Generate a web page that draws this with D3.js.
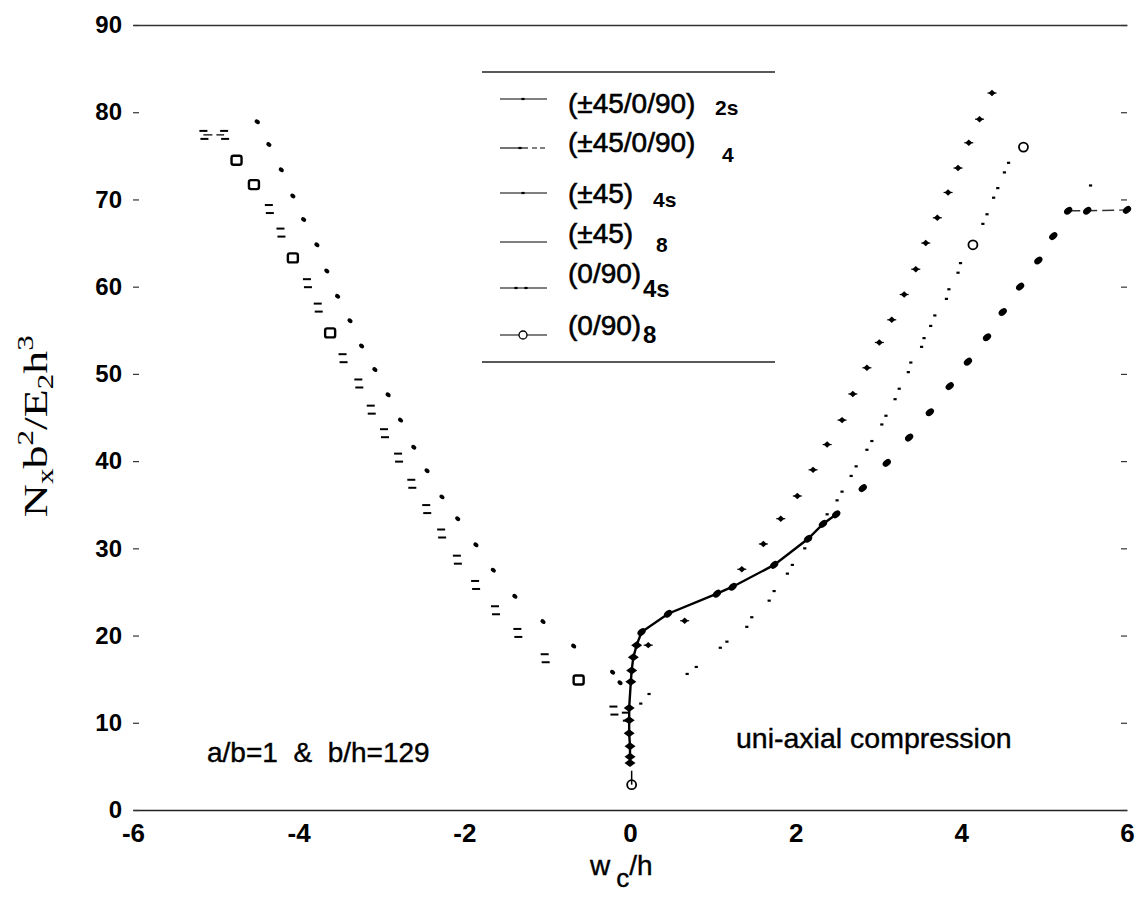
<!DOCTYPE html>
<html><head><meta charset="utf-8">
<script src="https://cdn.jsdelivr.net/npm/d3@7"></script>
<style>
body{margin:0;background:#fff}
text{fill:#000}
</style>
</head><body>
<svg id="chart" width="1144" height="901"></svg>
<script>
// axis ticks
const xTicks = [-6, -4, -2, 0, 2, 4, 6];
const yTicks = [0, 10, 20, 30, 40, 50, 60, 70, 80, 90];

// legend entries (label + subscript)
const seriesNames = ["(±45/0/90)", "(±45/0/90)", "(±45)", "(±45)", "(0/90)", "(0/90)"];
const seriesSubs  = ["2s", "4", "4s", "8", "4s", "8"];

// [w_c/h, N_x b^2 / E_2 h^3]
const lam2s = [[0.22,18.9],[0.66,21.7],[1.35,27.6],[1.61,30.5],[1.82,33.4],[2.02,36.0],[2.21,39.0],
  [2.38,41.9],[2.56,44.7],[2.69,47.7],[2.86,50.7],[3.01,53.6],[3.16,56.2],[3.31,59.1],[3.45,62.0],
  [3.57,65.0],[3.71,67.9],[3.84,70.8],[3.96,73.6],[4.09,76.5],[4.22,79.2],[4.37,82.2]];

const lam4 = [[-4.50,78.9],[-4.36,76.3],[-4.21,73.4],[-4.07,70.4],[-3.94,67.7],[-3.78,64.8],
  [-3.66,61.8],[-3.53,58.9],[-3.38,56.1],[-3.24,53.2],[-3.08,50.5],[-2.92,47.6],[-2.77,44.7],
  [-2.61,41.6],[-2.45,38.9],[-2.27,35.9],[-2.08,33.4],[-1.86,30.4],[-1.65,27.5],[-1.39,24.5],
  [-1.05,21.6],[-0.68,18.8],[-0.21,15.8],[-0.12,14.6]];

const lam45_4s = [[0.00,5.4],[0.00,6.1],[0.00,7.3],[-0.01,8.8],[-0.01,10.3],[-0.01,11.7],
  [0.01,14.7],[0.02,16.0],[0.04,17.5],[0.08,18.9],[0.14,20.4],[0.46,22.5],[1.05,24.8],[1.24,25.6],
  [1.74,28.1],[2.15,31.1],[2.33,32.8],[2.49,33.9],[2.81,36.9],[3.10,39.8],[3.37,42.7],[3.62,45.6],
  [3.86,48.6],[4.08,51.4],[4.31,54.2],[4.50,57.1],[4.71,60.0],[4.93,63.0],[5.11,65.8],[5.29,68.7],
  [5.52,68.7],[6.00,68.8]];

const lam45_8 = [[0.23,13.3],[0.80,16.4],[1.17,19.3],[1.47,22.1],[1.74,25.1],[1.96,28.1],[2.17,31.0],
  [2.38,33.9],[2.56,36.5],[2.73,39.4],[2.92,42.3],[3.09,45.2],[3.25,48.3],[3.39,51.3],[3.55,54.1],
  [3.68,56.7],[3.85,59.7],[3.99,62.7],[4.31,68.3],[4.44,71.3],[4.57,74.2],[5.56,71.6]];

const lam090_4s = [[-5.15,77.4],[-4.90,77.4],[-4.36,68.9],[-4.22,66.2],[-3.90,60.4],[-3.77,57.6],
  [-3.47,51.8],[-3.28,48.9],[-3.13,45.9],[-2.97,43.2],[-2.80,40.4],[-2.64,37.4],[-2.46,34.5],
  [-2.28,31.7],[-2.09,28.7],[-1.87,25.8],[-1.63,22.9],[-1.36,20.3],[-1.03,17.4],[-0.20,11.4],
  [-0.05,10.7],
  [0.13,12.2],[0.69,15.6],[1.09,18.6],[1.41,21.0],[1.68,24.0],[1.90,27.1],[2.11,30.0],[2.32,32.8],
  [2.50,35.5],[2.67,38.3],[2.86,41.3],[3.04,44.2],[3.20,47.1],[3.36,50.2],[3.52,53.1],[3.63,55.5],
  [3.82,58.6],[3.96,61.6],[4.26,67.2],[4.39,70.2],[4.52,73.1]];

const lam090_8 = [[-4.75,74.5],[-4.54,71.7],[-4.07,63.3],[-3.62,54.7],[-0.62,14.9],[0.02,2.9],
  [4.14,64.8],[4.75,76.0]];

const svg = d3.select("#chart");
const x = d3.scaleLinear().domain([-6, 6]).range([133, 1127]);
const y = d3.scaleLinear().domain([0, 90]).range([810, 25]);
const sans = "'Liberation Sans', Arial, Helvetica, sans-serif";

// frame lines at 0 and 90
svg.append("g").attr("transform", `translate(0,${y(90)})`)
  .call(d3.axisTop(x).tickValues([]).tickSizeOuter(0))
  .call(g => g.select(".domain").attr("stroke", "#333").attr("stroke-width", 1.4));
const xAxis = svg.append("g").attr("transform", `translate(0,${y(0)})`)
  .call(d3.axisBottom(x).tickValues(xTicks).tickSize(0).tickPadding(13).tickFormat(d => String(d)).tickSizeOuter(0));
xAxis.select(".domain").attr("stroke", "#222").attr("stroke-width", 1.6);
xAxis.selectAll("text").attr("font-family", sans).attr("font-size", 26).attr("font-weight", "bold")
  .attr("fill", "#000").attr("dy", "0.72em");

// left ticks + labels
const yAxis = svg.append("g").attr("transform", `translate(${x(-6)},0)`)
  .call(d3.axisRight(y).tickValues(yTicks).tickSize(6).tickFormat(d => String(d)));
yAxis.select(".domain").remove();
yAxis.selectAll("line").attr("stroke", "#333").attr("stroke-width", 1.2);
yAxis.selectAll("text").attr("font-family", sans).attr("font-size", 24).attr("font-weight", "bold")
  .attr("text-anchor", "end").attr("x", -11).attr("fill", "#000");

// right ticks
const yAxisR = svg.append("g").attr("transform", `translate(${x(6)},0)`)
  .call(d3.axisLeft(y).tickValues(yTicks).tickSize(6).tickFormat(""));
yAxisR.select(".domain").remove();
yAxisR.selectAll("line").attr("stroke", "#333").attr("stroke-width", 1.2);

// axis titles
const xt = svg.append("text").attr("x", x(0) - 40).attr("y", 875)
  .attr("font-family", sans).attr("font-size", 28).attr("stroke", "#000").attr("stroke-width", 0.4);
xt.append("tspan").text("w");
xt.append("tspan").attr("dx", 6).attr("dy", 12).attr("font-size", 26).text("c");
xt.append("tspan").attr("dy", -12).text("/h");

const yt = svg.append("text").attr("transform", `translate(47,${y(44)}) rotate(-90) scale(1.35,1)`)
  .attr("text-anchor", "middle").attr("font-family", "'Liberation Serif', 'Times New Roman', serif")
  .attr("font-size", 34);
yt.append("tspan").text("N");
yt.append("tspan").attr("dy", 6).attr("font-size", 23).text("x");
yt.append("tspan").attr("dy", -6).text("b");
yt.append("tspan").attr("dy", -14).attr("font-size", 23).text("2");
yt.append("tspan").attr("dy", 14).text("/E");
yt.append("tspan").attr("dy", 6).attr("font-size", 23).text("2");
yt.append("tspan").attr("dy", -6).text("h");
yt.append("tspan").attr("dy", -14).attr("font-size", 23).text("3");

// annotations
svg.append("text").attr("x", 207).attr("y", 762).attr("font-family", sans).attr("font-size", 28)
  .attr("stroke", "#000").attr("stroke-width", 0.4)
  .style("white-space", "pre").text("a/b=1  &  b/h=129");
svg.append("text").attr("x", 736).attr("y", 748).attr("font-family", sans).attr("font-size", 28.5)
  .attr("stroke", "#000").attr("stroke-width", 0.4)
  .text("uni-axial compression");

// marker shapes
function drawMarker(g, kind, cx, cy) {
  switch (kind) {
    case "dot":
      g.append("ellipse").attr("cx", cx).attr("cy", cy).attr("rx", 2.8).attr("ry", 2.1)
        .attr("transform", `rotate(35,${cx},${cy})`).attr("fill", "#000"); break;
    case "plus":
      g.append("path").attr("d", `M${cx-3.5},${cy}L${cx},${cy-3.2}L${cx+3.5},${cy}L${cx},${cy+3.2}Z`)
        .attr("fill", "#000");
      g.append("line").attr("x1", cx - 4.5).attr("x2", cx + 4.5).attr("y1", cy).attr("y2", cy)
        .attr("stroke", "#000").attr("stroke-width", 1.2); break;
    case "big":
      g.append("ellipse").attr("cx", cx).attr("cy", cy).attr("rx", 4.6).attr("ry", 3.2)
        .attr("transform", `rotate(-40,${cx},${cy})`).attr("fill", "#000"); break;
    case "bar":
      g.append("path").attr("d", `M${cx-5.5},${cy}L${cx},${cy-4}L${cx+5.5},${cy}L${cx},${cy+4}Z`)
        .attr("fill", "#000"); break;
    case "tiny":
      g.append("rect").attr("x", cx - 1.6).attr("y", cy - 1.1).attr("width", 3.2).attr("height", 2.2)
        .attr("fill", "#000"); break;
    case "eq":
      g.append("rect").attr("x", cx - 4).attr("y", cy - 5).attr("width", 8).attr("height", 2).attr("fill", "#000");
      g.append("rect").attr("x", cx - 3).attr("y", cy + 3).attr("width", 8).attr("height", 2).attr("fill", "#000"); break;
    case "ring":
      g.append("rect").attr("x", cx - 5).attr("y", cy - 4.5).attr("width", 10).attr("height", 9)
        .attr("fill", "none").attr("stroke", "#000").attr("stroke-width", 2.4).attr("rx", 2); break;
    case "circle":
      g.append("circle").attr("cx", cx).attr("cy", cy).attr("r", 4.5).attr("fill", "none")
        .attr("stroke", "#000").attr("stroke-width", 1.8); break;
  }
}

const plot = svg.append("g");

// (±45)4s connecting line: solid near the origin, dashed on the final plateau
const line = d3.line().x(d => x(d[0])).y(d => y(d[1]));
plot.append("path").datum(lam45_4s.filter(d => d[0] <= 2.5))
  .attr("d", line).attr("fill", "none").attr("stroke", "#000").attr("stroke-width", 2.4);
plot.append("path").datum(lam45_4s.filter(d => d[0] >= 5.2))
  .attr("d", line).attr("fill", "none").attr("stroke", "#333").attr("stroke-width", 1.4)
  .attr("stroke-dasharray", "12,5");
plot.append("path").datum(lam090_4s.filter(d => d[0] < -4.8))
  .attr("d", line).attr("fill", "none").attr("stroke", "#000").attr("stroke-width", 1.2)
  .attr("stroke-dasharray", "9,4");

lam2s.forEach(d => drawMarker(plot, "plus", x(d[0]), y(d[1])));
lam4.forEach(d => drawMarker(plot, "dot", x(d[0]), y(d[1])));
lam45_4s.forEach(d => drawMarker(plot, Math.abs(d[0]) < 0.1 ? "bar" : "big", x(d[0]), y(d[1])));
lam45_8.forEach(d => drawMarker(plot, "tiny", x(d[0]), y(d[1])));
lam090_4s.forEach(d => drawMarker(plot, d[0] < 0 ? "eq" : "tiny", x(d[0]), y(d[1])));
lam090_8.forEach(d => {
  if (d[1] < 5) {
    plot.append("line").attr("x1", x(d[0])).attr("x2", x(d[0])).attr("y1", y(d[1]) - 14).attr("y2", y(d[1]))
      .attr("stroke", "#000").attr("stroke-width", 1.5);
  }
  drawMarker(plot, d[0] < 0 ? "ring" : "circle", x(d[0]), y(d[1]));
});

// legend
const leg = svg.append("g");
leg.append("line").attr("x1", 482).attr("x2", 775).attr("y1", 72).attr("y2", 72).attr("stroke", "#222").attr("stroke-width", 1.6);
leg.append("line").attr("x1", 482).attr("x2", 775).attr("y1", 362).attr("y2", 362).attr("stroke", "#222").attr("stroke-width", 1.6);
const rowY = [99, 148, 193, 242, 288, 335];
const textBase = [113, 152, 203, 243, 283, 335];
const subBase = [115, 162, 207, 252, 297, 343];
const subX = [715, 722, 653, 656, 643, 643];
const legMarks = ["dot", "dash", "dot", "none", "tiny", "circle"];
seriesNames.forEach((name, i) => {
  const ly = rowY[i];
  leg.append("line").attr("x1", 500).attr("x2", legMarks[i] === "dash" ? 528 : 547).attr("y1", ly).attr("y2", ly)
    .attr("stroke", "#000").attr("stroke-width", 1.1);
  if (legMarks[i] === "dash") {
    leg.append("line").attr("x1", 532).attr("x2", 547).attr("y1", ly).attr("y2", ly)
      .attr("stroke", "#000").attr("stroke-width", 1.1).attr("stroke-dasharray", "5,3");
    drawMarker(leg, "tiny", 520, ly);
  } else if (legMarks[i] === "dot") {
    drawMarker(leg, "tiny", 523, ly);
  } else if (legMarks[i] === "tiny") {
    drawMarker(leg, "tiny", 516, ly); drawMarker(leg, "tiny", 526, ly);
  } else if (legMarks[i] === "circle") {
    leg.append("circle").attr("cx", 523).attr("cy", ly).attr("r", 4).attr("fill", "#fff")
      .attr("stroke", "#000").attr("stroke-width", 1.3);
  }
  leg.append("text").attr("x", 568).attr("y", textBase[i]).attr("font-family", sans)
    .attr("font-size", 28).attr("stroke", "#000").attr("stroke-width", 0.6).text(name);
  leg.append("text").attr("x", subX[i]).attr("y", subBase[i]).attr("font-family", sans)
    .attr("font-size", i >= 4 ? 24 : 21).attr("font-weight", "bold").text(seriesSubs[i]);
});
</script>
</body></html>
